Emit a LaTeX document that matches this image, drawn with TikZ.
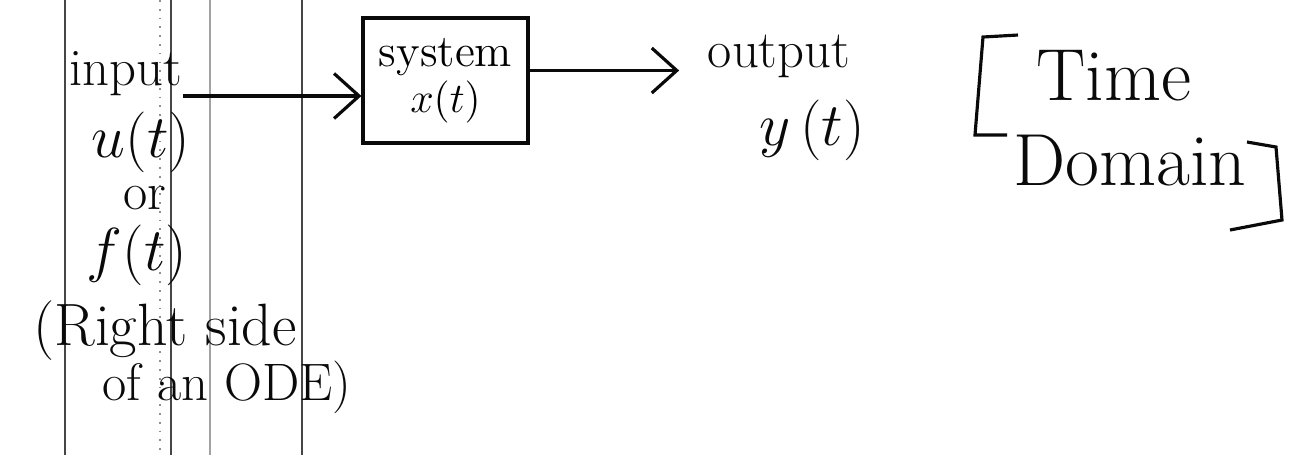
\documentclass[tikz,border=0pt]{standalone}
\usepackage{amsmath}
\usepackage{xcolor}
\usepackage{tikz}
\usetikzlibrary{calc,arrows.meta}
\definecolor{ink}{RGB}{10,10,10}
\definecolor{rulegray}{RGB}{70,70,70}

\begin{document}
\begin{tikzpicture}[
    txt/.style={font=\fontsize{15}{18}\selectfont, inner sep=0pt, anchor=base, text=ink},
    fn/.style={txt, font=\fontsize{17}{20}\selectfont},
    big/.style={txt, font=\fontsize{21}{25}\selectfont},
    sysbox/.style={draw=ink, line width=0.9pt, minimum width=1.65cm, minimum height=1.25cm,
                   align=center, inner sep=0pt, font=\fontsize{13}{13}\selectfont},
    arr/.style={-{Straight Barb[length=2.5mm,width=4.5mm]}, ink, line width=0.9pt},
    rule/.style={rulegray, line width=0.5pt}]
    \useasboundingbox (0,0) rectangle (12.9,-4.55);

    % Lineas verticales del cuaderno
    \foreach \x in {0.65,1.71,3.02}
      \draw[rule] (\x,0) -- (\x,-4.55);
    \draw[rule, dotted, rulegray!60] (1.60,0) -- (1.60,-4.55);
    \draw[rule, rulegray!50] (2.10,0) -- (2.10,-4.55);

    % Entrada
    \node[txt] (input) at (1.26,-0.85) {input};
    \node[fn] (u) at (1.41,-1.57) {$u(t)$};
    \node[txt] (or) at (1.45,-2.09) {or};
    \node[fn] (f) at (1.37,-2.70) {$f(t)$};
    \node[txt, font=\fontsize{17}{20}\selectfont] (rhs1) at (1.65,-3.45) {(Right side};
    \node[txt] (rhs2) at (2.27,-4.00) {of an ODE)};

    % Sistema
    \node[sysbox] (sys) at (4.455,-0.805) {system\\$x(t)$};
    \draw[arr] (input.south east) -- (input.south east -| sys.west);

    % Salida
    \node[txt] (output) at (7.79,-0.67) {output};
    \node[fn] (y) at (8.12,-1.45) {$y\,(t)$};
    \draw[arr, shorten >=0.28cm] ([yshift=0.1cm]sys.east) -- ([yshift=0.1cm]sys.east -| output.west);

    % Dominio del tiempo entre corchetes
    \node[big] (time) at (11.14,-1.00) {Time};
    \node[big] (domain) at (11.30,-1.85) {Domain};
    \draw[ink, line width=0.9pt] (10.18,-0.35) -- (9.83,-0.37) -- (9.75,-1.35) -- (10.07,-1.35);
    \draw[ink, line width=0.9pt] (12.47,-1.42) -- (12.76,-1.47) -- (12.82,-2.20) -- (12.30,-2.30);
\end{tikzpicture}
\end{document}
